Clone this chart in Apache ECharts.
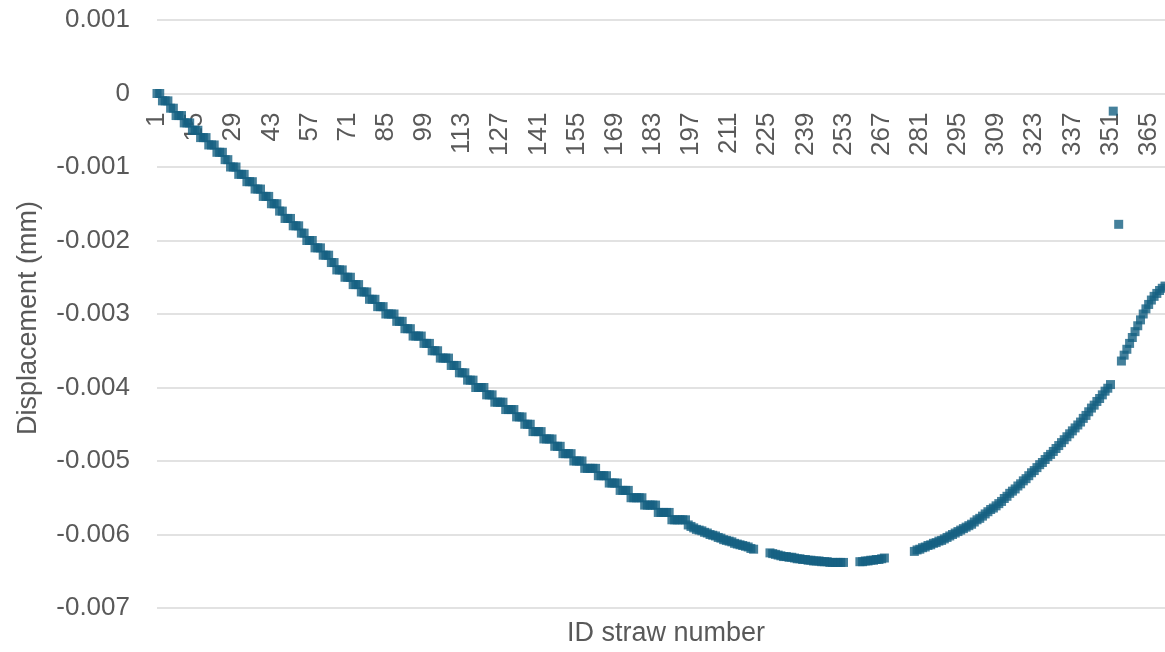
<!DOCTYPE html>
<html>
<head>
<meta charset="utf-8">
<script src="https://cdn.jsdelivr.net/npm/echarts@6/dist/echarts.min.js"></script>
<style>
  html, body { margin: 0; padding: 0; background: #fff; }
  #main { width: 1165px; height: 652px; }
</style>
</head>
<body>
<div id="main"></div>
<script>
// straw ids 1..371 (x categories)
var strawIds = [];
for (var k = 1; k <= 371; k++) strawIds.push(String(k));

// displacement (mm), straws 1-100
var dispA = [
  0, 0, -0.0001, -0.0001, -0.0001, -0.0002, -0.0002, -0.0003, -0.0003, -0.0003,
  -0.0004, -0.0004, -0.0004, -0.0005, -0.0005, -0.0005, -0.0006, -0.0006, -0.0006, -0.0007,
  -0.0007, -0.0007, -0.0008, -0.0008, -0.0008, -0.0009, -0.0009, -0.0010, -0.0010, -0.0010,
  -0.0011, -0.0011, -0.0011, -0.0012, -0.0012, -0.0012, -0.0013, -0.0013, -0.0013, -0.0014,
  -0.0014, -0.0014, -0.0015, -0.0015, -0.0015, -0.0016, -0.0016, -0.0017, -0.0017, -0.0017,
  -0.0018, -0.0018, -0.0018, -0.0019, -0.0019, -0.0020, -0.0020, -0.0020, -0.0021, -0.0021,
  -0.0021, -0.0022, -0.0022, -0.0022, -0.0023, -0.0023, -0.0024, -0.0024, -0.0024, -0.0025,
  -0.0025, -0.0025, -0.0026, -0.0026, -0.0026, -0.0027, -0.0027, -0.0027, -0.0028, -0.0028,
  -0.0028, -0.0029, -0.0029, -0.0029, -0.0030, -0.0030, -0.0030, -0.0030, -0.0031, -0.0031,
  -0.0031, -0.0032, -0.0032, -0.0032, -0.0033, -0.0033, -0.0033, -0.0033, -0.0034, -0.0034
];
// straws 101-200
var dispB = [
  -0.0034, -0.0035, -0.0035, -0.0035, -0.0036, -0.0036, -0.0036, -0.0036, -0.0037, -0.0037,
  -0.0037, -0.0038, -0.0038, -0.0038, -0.0039, -0.0039, -0.0039, -0.0040, -0.0040, -0.0040,
  -0.0040, -0.0041, -0.0041, -0.0041, -0.0042, -0.0042, -0.0042, -0.0042, -0.0043, -0.0043,
  -0.0043, -0.0043, -0.0044, -0.0044, -0.0044, -0.0045, -0.0045, -0.0045, -0.0046, -0.0046,
  -0.0046, -0.0046, -0.0047, -0.0047, -0.0047, -0.0047, -0.0048, -0.0048, -0.0048, -0.0049,
  -0.0049, -0.0049, -0.0049, -0.0050, -0.0050, -0.0050, -0.0050, -0.0051, -0.0051, -0.0051,
  -0.0051, -0.0051, -0.0052, -0.0052, -0.0052, -0.0052, -0.0053, -0.0053, -0.0053, -0.0053,
  -0.0054, -0.0054, -0.0054, -0.0054, -0.0055, -0.0055, -0.0055, -0.0055, -0.0055, -0.0056,
  -0.0056, -0.0056, -0.0056, -0.0056, -0.0057, -0.0057, -0.0057, -0.0057, -0.0057, -0.0058,
  -0.0058, -0.0058, -0.0058, -0.0058, -0.0058, -0.00587, -0.00589, -0.00591, -0.00593, -0.00594
];
// straws 201-300 (null = no reading)
var dispC = [
  -0.00595, -0.00597, -0.00598, -0.00600, -0.00601, -0.00602, -0.00604, -0.00605, -0.00607, -0.00608,
  -0.00609, -0.00610, -0.00612, -0.00613, -0.00614, -0.00615, -0.00616, -0.00617, -0.00619, -0.00620,
  null, null, null, null, null, -0.00625, -0.00626, -0.00627, -0.00628, -0.00629,
  -0.00630, -0.00630, -0.00631, -0.00631, -0.00632, -0.00633, -0.00633, -0.00634, -0.00634, -0.00635,
  -0.00635, -0.00636, -0.00636, -0.00636, -0.00637, -0.00637, -0.00637, -0.00638, -0.00638, -0.00638,
  -0.00638, -0.00638, -0.00638, null, null, null, null, null, -0.00637, -0.00637,
  -0.00636, -0.00636, -0.00635, -0.00635, -0.00634, -0.00634, -0.00633, -0.00632, null, null,
  null, null, null, null, null, null, null, null, -0.00623, -0.00621,
  -0.00620, -0.00618, -0.00617, -0.00615, -0.00614, -0.00612, -0.00611, -0.00609, -0.00608, -0.00606,
  -0.00604, -0.00602, -0.00600, -0.00598, -0.00596, -0.00594, -0.00592, -0.00590, -0.00588, -0.00586
];
// straws 301-371
var dispD = [
  -0.00583, -0.00580, -0.00578, -0.00575, -0.00572, -0.00569, -0.00566, -0.00564, -0.00561, -0.00558,
  -0.00555, -0.00551, -0.00548, -0.00544, -0.00541, -0.00538, -0.00534, -0.00531, -0.00527, -0.00524,
  -0.00520, -0.00516, -0.00513, -0.00509, -0.00505, -0.00502, -0.00498, -0.00494, -0.00491, -0.00487,
  -0.00483, -0.00479, -0.00475, -0.00471, -0.00467, -0.00463, -0.00459, -0.00455, -0.00451, -0.00447,
  -0.00442, -0.00438, -0.00433, -0.00428, -0.00424, -0.00419, -0.00415, -0.00410, -0.00405, -0.00401,
  -0.00396, -0.00024, null, -0.00178, -0.00364, -0.00356, -0.00348, -0.00340, -0.00332, -0.00324,
  -0.00316, -0.00308, -0.00300, -0.00293, -0.00287, -0.00281, -0.00276, -0.00272, -0.00268, -0.00265,
  -0.00262
];

var yMin = -0.007, yMax = 0.001, yStep = 0.001;
var textColor = '#595959';
var gridColor = '#d9d9d9';
var markColor = '#156082';
var fontFam = '"Liberation Sans", Arial, sans-serif';

var gridTop = 20, gridHeight = 588;
// x axis sits on the zero line, so shift it up from the bottom of the grid
var zeroOffset = -gridHeight * (0 - yMin) / (yMax - yMin);

var allDisp = dispA.concat(dispB, dispC, dispD);
var points = [];
allDisp.forEach(function (v, i) {
  if (v !== null) points.push([i, v]);
});

var chart = echarts.init(document.getElementById('main'));
chart.setOption({
  animation: false,
  backgroundColor: '#fff',
  grid: { left: 157, right: 0, top: gridTop, height: gridHeight, outerBoundsMode: 'none' },
  xAxis: {
    type: 'category',
    data: strawIds,
    boundaryGap: false,
    position: 'bottom',
    offset: zeroOffset,
    axisLine: { show: false, onZero: false },
    axisTick: { show: false },
    splitLine: { show: false },
    axisLabel: {
      interval: 13,
      rotate: 90,
      margin: 19,
      color: textColor,
      fontSize: 26,
      fontFamily: fontFam
    }
  },
  yAxis: {
    type: 'value',
    min: yMin,
    max: yMax,
    interval: yStep,
    axisLine: { show: false },
    axisTick: { show: false },
    splitLine: { show: true, lineStyle: { color: gridColor, width: 1.5 } },
    axisLabel: {
      margin: 27,
      color: textColor,
      fontSize: 26,
      fontFamily: fontFam,
      formatter: function (v) { return String(+v.toFixed(3)); }
    }
  },
  graphic: [
    {
      type: 'text', x: 29, y: 318, rotation: Math.PI / 2,
      style: { text: 'Displacement (mm)', fill: textColor, fontSize: 27, fontFamily: fontFam, align: 'center', verticalAlign: 'middle' }
    },
    {
      type: 'text', x: 666, y: 634,
      style: { text: 'ID straw number', fill: textColor, fontSize: 27, fontFamily: fontFam, align: 'center', verticalAlign: 'middle' }
    }
  ],
  series: [
    {
      type: 'scatter',
      data: points,
      symbol: 'rect',
      symbolSize: 9,
      itemStyle: { color: markColor }
    }
  ]
});
</script>
</body>
</html>
